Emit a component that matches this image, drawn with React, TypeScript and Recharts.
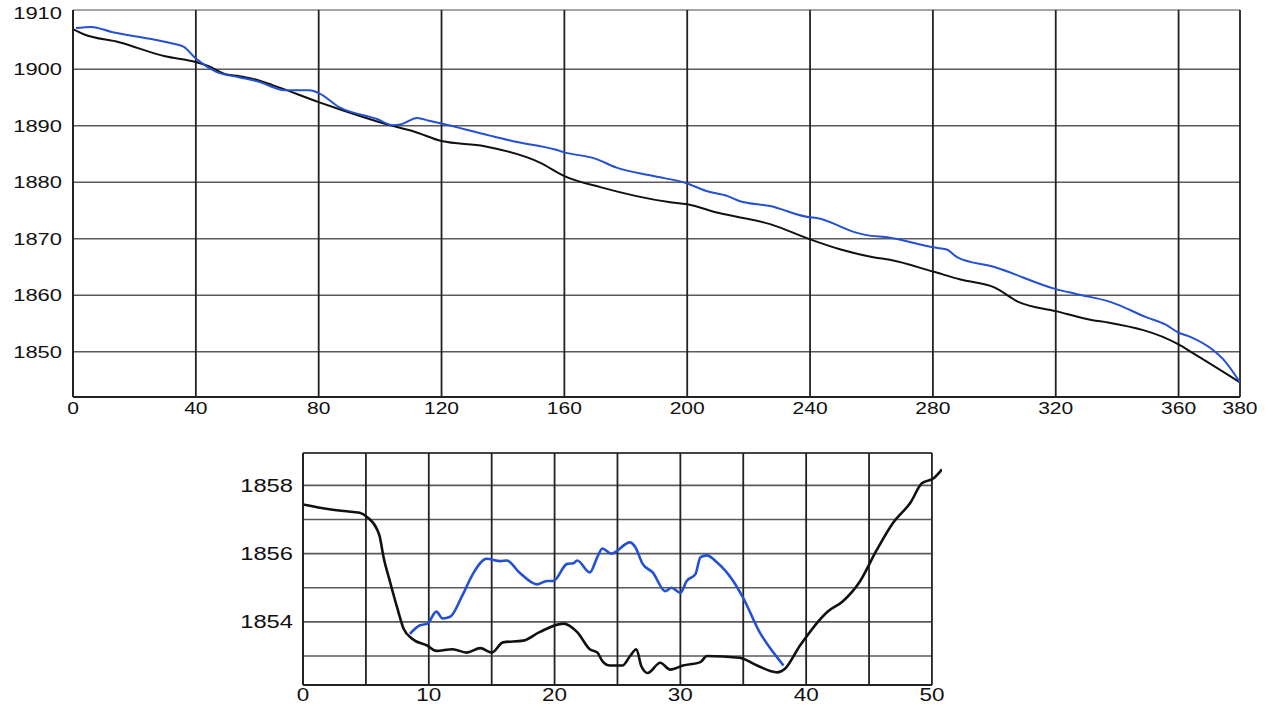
import React from 'react';
import { LineChart, Line, XAxis, YAxis, ReferenceLine } from 'recharts';

// ---------- Top panel data ----------
const topBlackX = [0, 3.5, 15, 30, 40, 44, 50, 54, 58, 65, 80, 87, 104, 111, 120, 134, 152, 160, 172, 194, 200, 210, 227, 240, 250, 261, 266, 280, 289, 300, 308, 320, 332, 337, 360, 364, 380];
const topBlackY = [1907.1, 1906.2, 1904.8, 1902.3, 1901.3, 1900.6, 1899.1, 1898.8, 1898.4, 1897.2, 1894.2, 1892.9, 1890.0, 1889.0, 1887.3, 1886.4, 1883.5, 1881.1, 1879.1, 1876.5, 1876.1, 1874.6, 1872.6, 1869.9, 1868.1, 1866.7, 1866.3, 1864.2, 1862.8, 1861.4, 1858.8, 1857.2, 1855.6, 1855.2, 1851.3, 1850.0, 1844.6];

const topBlueX = [1, 6, 12.6, 23, 32, 36, 40, 46.5, 54, 60, 69, 77, 80, 87, 99, 104, 107, 112, 116, 120, 134, 137, 143, 157, 160, 170, 177, 189, 200, 206, 213, 217, 227, 240, 242, 255, 258, 266, 280, 284.5, 288, 300, 320, 327, 338, 349.6, 355.5, 360, 364, 371, 374.5, 380];
const topBlueY = [1907.3, 1907.5, 1906.6, 1905.6, 1904.6, 1904.0, 1901.9, 1899.6, 1898.6, 1897.9, 1896.3, 1896.3, 1895.8, 1893.2, 1891.2, 1890.1, 1890.3, 1891.4, 1890.9, 1890.4, 1888.5, 1888.1, 1887.3, 1885.8, 1885.3, 1884.2, 1882.6, 1881.1, 1879.8, 1878.5, 1877.6, 1876.7, 1875.8, 1873.8, 1873.7, 1871.1, 1870.7, 1870.2, 1868.5, 1868.1, 1866.7, 1865.0, 1861.1, 1860.2, 1858.8, 1856.1, 1854.9, 1853.4, 1852.6, 1850.4, 1848.7, 1844.6];

const topXTicks = [0, 40, 80, 120, 160, 200, 240, 280, 320, 360, 380];
const topYTicks = [1850, 1860, 1870, 1880, 1890, 1900, 1910];
const topVGrid = [40, 80, 120, 160, 200, 240, 280, 320, 360, 380];
const topHGrid = [1850, 1860, 1870, 1880, 1890, 1900];
const topDomainX: [number, number] = [0, 380];
const topDomainY: [number, number] = [1842, 1910.5];

// ---------- Bottom panel data ----------
const botBlackX = [0, 2.1, 4.0, 4.5, 5.1, 5.9, 6.1, 6.4, 6.9, 7.5, 8.0, 8.7, 9.9, 10.6, 11.9, 13.0, 14.1, 15.0, 15.9, 17.5, 18.8, 20.7, 21.8, 22.8, 23.4, 23.8, 24.4, 25.4, 26.0, 26.5, 26.9, 27.4, 28.4, 29.2, 30.2, 31.6, 32.1, 34.7, 36.1, 37.7, 38.3, 39.5, 41.7, 42.9, 44.3, 45.6, 46.9, 48.3, 49.2, 50.1, 50.8];
const botBlackY = [1857.44, 1857.3, 1857.22, 1857.2, 1857.07, 1856.7, 1856.5, 1855.9, 1855.2, 1854.4, 1853.8, 1853.5, 1853.3, 1853.15, 1853.2, 1853.1, 1853.23, 1853.1, 1853.4, 1853.45, 1853.7, 1853.95, 1853.7, 1853.2, 1853.1, 1852.85, 1852.72, 1852.72, 1853.0, 1853.2, 1852.7, 1852.5, 1852.8, 1852.6, 1852.72, 1852.82, 1853.0, 1852.95, 1852.72, 1852.52, 1852.62, 1853.3, 1854.3, 1854.6, 1855.2, 1856.1, 1856.9, 1857.5, 1858.06, 1858.2, 1858.47];

const botBlueX = [8.5, 9.3, 9.9, 10.6, 11.1, 11.7, 12.7, 13.5, 14.6, 15.7, 16.2, 17.2, 18.6, 19.4, 19.9, 21.0, 21.5, 21.8, 22.8, 23.4, 23.8, 24.5, 26.0, 26.4, 27.0, 27.8, 28.8, 29.3, 30.0, 30.5, 31.2, 31.6, 32.1, 32.9, 34.2, 35.0, 36.3, 37.4, 38.2];
const botBlueY = [1853.65, 1853.9, 1853.95, 1854.3, 1854.1, 1854.15, 1854.8, 1855.4, 1855.85, 1855.78, 1855.8, 1855.45, 1855.1, 1855.2, 1855.2, 1855.7, 1855.72, 1855.8, 1855.45, 1855.9, 1856.15, 1856.0, 1856.33, 1856.2, 1855.7, 1855.45, 1854.9, 1855.0, 1854.85, 1855.2, 1855.4, 1855.9, 1855.95, 1855.75, 1855.2, 1854.7, 1853.7, 1853.1, 1852.72];

const botXTicks = [0, 10, 20, 30, 40, 50];
const botYTicks = [1854, 1856, 1858];
const botVGrid = [5, 10, 15, 20, 25, 30, 35, 40, 45, 50];
const botHGrid = [1853, 1854, 1855, 1856, 1857, 1858];
const botDomainX: [number, number] = [0, 50.8];
const botDomainY: [number, number] = [1852.15, 1858.95];
const botGridEndX = 50;

const zip = (xs: number[], ys: number[]) => xs.map((x, i) => ({ x, y: ys[i] }));

const topBlack = zip(topBlackX, topBlackY);
const topBlue = zip(topBlueX, topBlueY);
const botBlack = zip(botBlackX, botBlackY);
const botBlue = zip(botBlueX, botBlueY);

const FONT = '"Liberation Sans", Arial, Helvetica, sans-serif';
const BLUE = '#2450d2';
const BLACK = '#111111';

const makeTick = (anchor: 'end' | 'middle', fontSize: number, charW: number, dy: string) => (props: any) => {
  const { x, y, payload } = props;
  const s = String(payload.value);
  return (
    <text
      x={x}
      y={y}
      dy={dy}
      textAnchor={anchor}
      fontSize={fontSize}
      fontFamily={FONT}
      fill="#111"
      textLength={s.length * charW}
      lengthAdjust="spacingAndGlyphs"
    >
      {s}
    </text>
  );
};

export default function App() {
  return (
    <div style={{ position: 'absolute', left: 0, top: 0, width: 1273, height: 709, background: '#fff', overflow: 'hidden' }}>
      <div style={{ position: 'absolute', left: 0, top: 0 }}>
        <LineChart width={1273} height={430} margin={{ top: 10, right: 33, left: 0, bottom: 3 }}>
          <XAxis
            type="number"
            dataKey="x"
            domain={topDomainX}
            ticks={topXTicks}
            allowDataOverflow
            height={30}
            tickLine={false}
            tickSize={6}
            tickMargin={0}
            axisLine={{ stroke: '#222', strokeWidth: 2 }}
            tick={makeTick('middle', 16, 11.7, '0.71em')}
            interval={0}
          />
          <YAxis
            type="number"
            domain={topDomainY}
            ticks={topYTicks}
            allowDataOverflow
            width={73}
            tickLine={false}
            tickSize={6}
            tickMargin={5}
            axisLine={{ stroke: '#222', strokeWidth: 2 }}
            tick={makeTick('end', 16, 12.2, '0.36em')}
            interval={0}
          />
          {topHGrid.map((v) => (
            <ReferenceLine key={'th' + v} y={v} stroke="#5a5a5a" strokeWidth={1.6} />
          ))}
          <ReferenceLine y={topDomainY[1]} stroke="#888" strokeWidth={1.6} />
          {topVGrid.map((v) => (
            <ReferenceLine key={'tv' + v} x={v} stroke="#222" strokeWidth={1.8} />
          ))}
          <Line data={topBlack} dataKey="y" type="monotone" stroke={BLACK} strokeWidth={2} dot={false} isAnimationActive={false} />
          <Line data={topBlue} dataKey="y" type="monotone" stroke={BLUE} strokeWidth={2} dot={false} isAnimationActive={false} />
        </LineChart>
      </div>
      <div style={{ position: 'absolute', left: 0, top: 440 }}>
        <LineChart width={1273} height={269} margin={{ top: 13, right: 331, left: 0, bottom: 0 }}>
          <XAxis
            type="number"
            dataKey="x"
            domain={botDomainX}
            ticks={botXTicks}
            allowDataOverflow
            height={24}
            tickLine={false}
            tickSize={0}
            tickMargin={3}
            axisLine={false}
            tick={makeTick('middle', 18, 12.5, '0.71em')}
            interval={0}
          />
          <YAxis
            type="number"
            domain={botDomainY}
            ticks={botYTicks}
            allowDataOverflow
            width={303}
            tickLine={false}
            tickSize={6}
            tickMargin={4}
            axisLine={{ stroke: '#222', strokeWidth: 2 }}
            tick={makeTick('end', 18, 13.2, '0.36em')}
            interval={0}
          />
          {botHGrid.map((v) => (
            <ReferenceLine
              key={'bh' + v}
              segment={[{ x: 0, y: v }, { x: botGridEndX, y: v }]}
              stroke="#5a5a5a"
              strokeWidth={1.6}
            />
          ))}
          <ReferenceLine
            segment={[{ x: 0, y: botDomainY[1] }, { x: botGridEndX, y: botDomainY[1] }]}
            stroke="#444"
            strokeWidth={1.8}
          />
          <ReferenceLine
            segment={[{ x: 0, y: botDomainY[0] }, { x: botGridEndX, y: botDomainY[0] }]}
            stroke="#222"
            strokeWidth={2}
          />
          {botVGrid.map((v) => (
            <ReferenceLine key={'bv' + v} x={v} stroke="#222" strokeWidth={1.8} />
          ))}
          <Line data={botBlue} dataKey="y" type="monotone" stroke={BLUE} strokeWidth={2.6} dot={false} isAnimationActive={false} />
          <Line data={botBlack} dataKey="y" type="monotone" stroke={BLACK} strokeWidth={2.6} dot={false} isAnimationActive={false} />
        </LineChart>
      </div>
    </div>
  );
}
